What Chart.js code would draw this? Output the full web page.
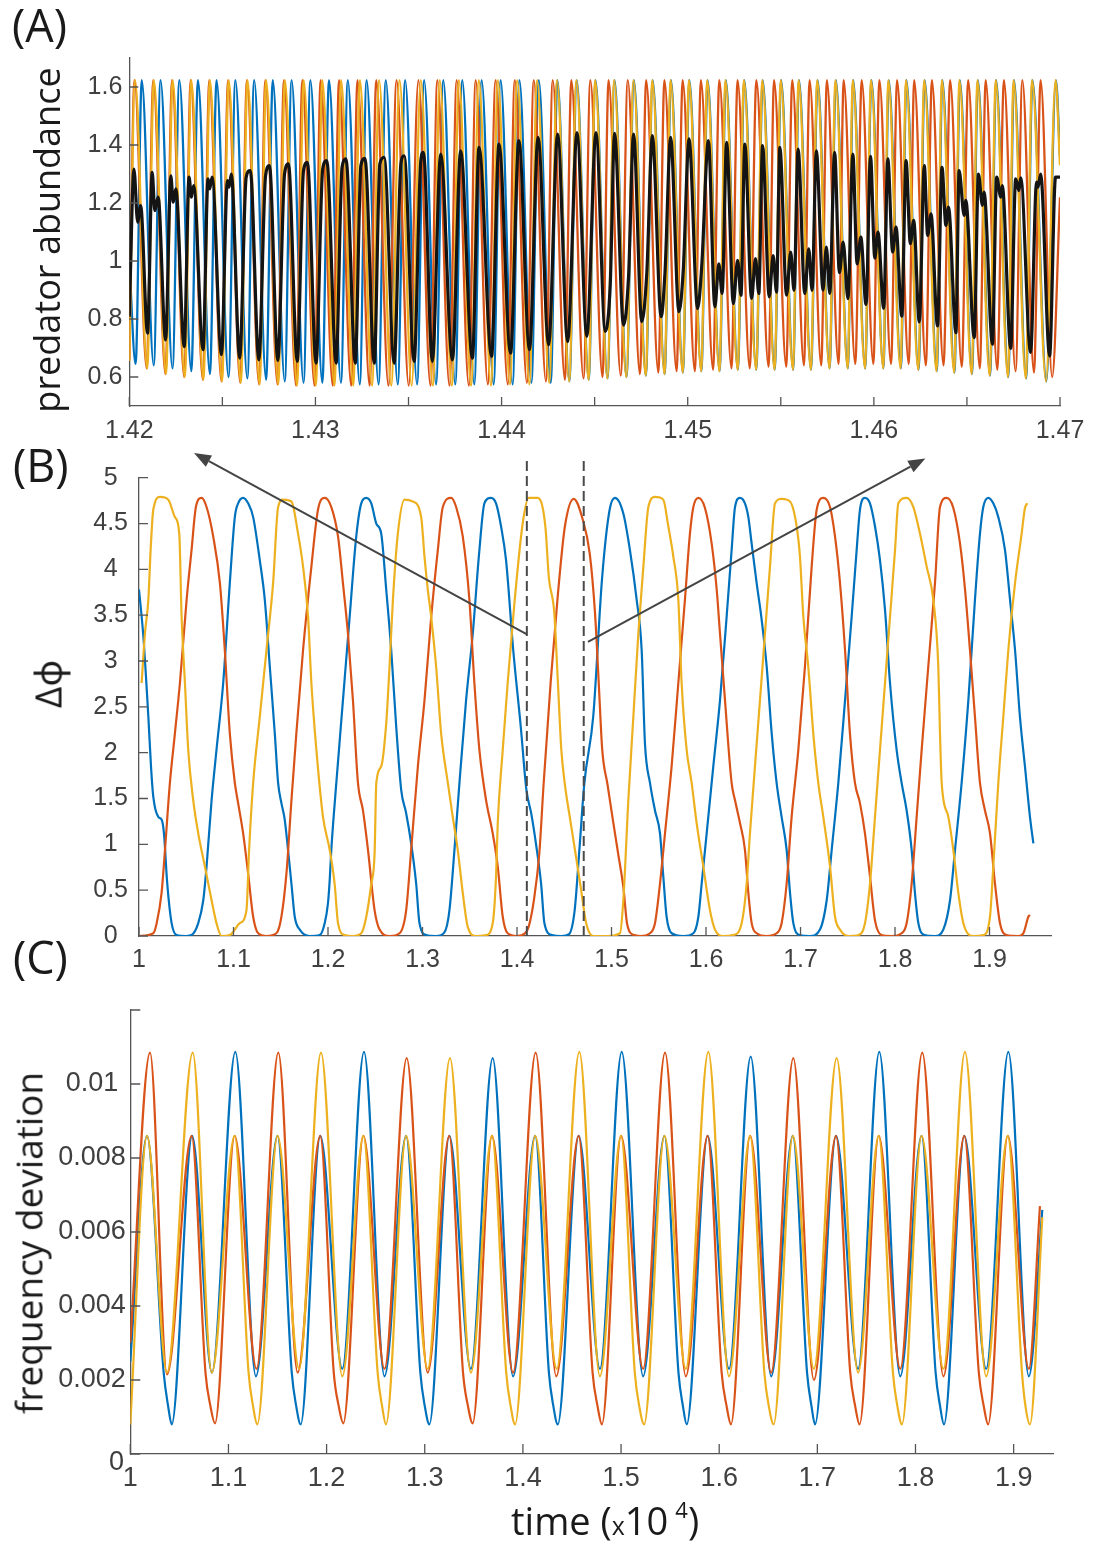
<!DOCTYPE html>
<html><head><meta charset="utf-8">
<script src="https://cdn.jsdelivr.net/npm/chart.js@4.4.1/dist/chart.umd.min.js"></script>
<style>
html,body{margin:0;padding:0;background:#fff;}
#wrap{position:relative;width:1097px;height:1548px;overflow:hidden;background:#fff;}
#wrap canvas{position:absolute;left:0;top:0;}
.t{position:absolute;font-family:"Open Sans","Noto Sans",sans-serif;color:#1a1a1a;white-space:nowrap;line-height:1;}
.r{transform:translate(-50%,-50%) rotate(-90deg);}
</style></head><body>
<div id="wrap">
<canvas id="cA" width="1097" height="1548"></canvas>
<canvas id="cB" width="1097" height="1548"></canvas>
<canvas id="cC" width="1097" height="1548"></canvas>
<div class="t" style="left:12px;top:2px;font-size:45px;">(A)</div>
<div class="t" style="left:13px;top:442px;font-size:45px;">(B)</div>
<div class="t" style="left:13px;top:934px;font-size:45px;">(C)</div>
<div class="t r" style="left:47px;top:240px;font-size:36px;">predator abundance</div>
<div class="t r" style="left:47px;top:684px;font-size:37px;">Δϕ</div>
<div class="t r" style="left:28px;top:1243px;font-size:37px;">frequency deviation</div>
<div class="t" style="left:511px;top:1501px;font-size:38px;">time (<span style="font-size:25px">x</span>10<span style="font-size:22px;position:relative;top:-17px;margin-left:7px">4</span>)</div>
<div class="t" style="left:109px;top:1448px;font-size:27px;font-family:'Liberation Sans',Arial,sans-serif;color:#3d3d3d">0</div>
</div>
<script>
// ================= DATA =================
// ---- Panel A: predator abundance (x in 10^4 time units) ----
const aPeakY = 1.624;
const orangeAStart = [[1.42, 0.655]];
const orangeAPeakX = [1.42031,1.42132,1.42233,1.42333,1.42433,1.42534,1.42635,1.42735,1.42836,1.42937,
 1.43037,1.43138,1.43239,1.43342,1.43452,1.43566,1.43668,1.43771,1.43878,1.43980,
 1.44084,1.44191,1.44298,1.44402,1.44503,1.44605,1.44709,1.44810,1.44908,1.45007,
 1.45105,1.45203,1.45302,1.45401,1.45500,1.45596,1.45696,1.45794,1.45887,1.45985,
 1.46078,1.46173,1.46271,1.46366,1.46460,1.46557,1.46655,1.46751,1.46850,1.46976];
const orangeATroughX = [1.42096,1.42197,1.42298,1.42398,1.42498,1.42599,1.42700,1.42800,1.42901,1.43002,
 1.43102,1.43203,1.43304,1.43407,1.43517,1.43631,1.43733,1.43836,1.43943,1.44045,
 1.44149,1.44256,1.44363,1.44467,1.44568,1.44670,1.44774,1.44875,1.44973,1.45072,
 1.45170,1.45268,1.45367,1.45466,1.45565,1.45661,1.45761,1.45859,1.45952,1.46050,
 1.46143,1.46238,1.46336,1.46431,1.46525,1.46622,1.46720,1.46816,1.46925];
const orangeATroughY = [0.63,0.61,0.60,0.59,0.585,0.58,0.575,0.575,0.57,0.57,
 0.57,0.57,0.57,0.57,0.57,0.57,0.57,0.57,0.57,0.575,
 0.575,0.58,0.585,0.59,0.595,0.60,0.605,0.61,0.615,0.62,
 0.62,0.625,0.625,0.625,0.625,0.625,0.63,0.63,0.63,0.63,
 0.63,0.625,0.62,0.615,0.61,0.605,0.60,0.595,0.585];
const orangeAEnd = [1.47, 1.33];

const blueAStart = [[1.42, 1.0],[1.42034, 0.645]];
const blueAPeakX = [1.42067,1.42168,1.42269,1.42369,1.42469,1.42570,1.42671,1.42771,1.42872,1.42973,
 1.43073,1.43174,1.43275,1.43378,1.43482,1.43584,1.43687,1.43789,1.43893,1.43995,
 1.44096,1.44200,1.44300,1.44404,1.44505,1.44607,1.44711,1.44812,1.44910,1.45009,
 1.45107,1.45205,1.45304,1.45403,1.45502,1.45598,1.45698,1.45796,1.45889,1.45987,
 1.46080,1.46175,1.46273,1.46368,1.46462,1.46559,1.46657,1.46753,1.46852,1.46978];
const blueATroughX = [1.42131,1.42232,1.42333,1.42433,1.42533,1.42634,1.42735,1.42835,1.42936,1.43037,
 1.43137,1.43238,1.43339,1.43442,1.43546,1.43648,1.43751,1.43853,1.43957,1.44059,
 1.44160,1.44264,1.44364,1.44468,1.44569,1.44671,1.44775,1.44876,1.44974,1.45073,
 1.45171,1.45269,1.45368,1.45467,1.45566,1.45662,1.45762,1.45860,1.45953,1.46051,
 1.46145,1.46240,1.46338,1.46433,1.46527,1.46624,1.46722,1.46818,1.46927];
const blueATroughY = [0.64,0.63,0.62,0.61,0.60,0.595,0.59,0.585,0.58,0.58,
 0.58,0.575,0.575,0.575,0.575,0.575,0.575,0.575,0.575,0.575,
 0.58,0.58,0.585,0.59,0.595,0.60,0.605,0.61,0.615,0.62,
 0.62,0.625,0.625,0.625,0.625,0.625,0.63,0.63,0.63,0.63,
 0.63,0.625,0.62,0.615,0.61,0.605,0.60,0.595,0.585];
const blueAEnd = [1.47, 1.36];

const redAStart = [[1.42, 0.66]];
const redAPeakX = [1.42028,1.42129,1.42230,1.42330,1.42430,1.42531,1.42632,1.42731,1.42831,1.42930,
 1.43028,1.43127,1.43226,1.43327,1.43436,1.43553,1.43655,1.43759,1.43861,1.43968,
 1.44071,1.44173,1.44275,1.44375,1.44477,1.44575,1.44678,1.44777,1.44875,1.44973,
 1.45071,1.45170,1.45268,1.45369,1.45464,1.45562,1.45655,1.45748,1.45838,1.45935,
 1.46030,1.46125,1.46217,1.46312,1.46410,1.46507,1.46601,1.46699,1.46798,1.46896];
const redATroughX = [1.42093,1.42194,1.42295,1.42395,1.42495,1.42596,1.42697,1.42796,1.42896,1.42995,
 1.43093,1.43192,1.43291,1.43392,1.43501,1.43618,1.43720,1.43824,1.43926,1.44033,
 1.44136,1.44238,1.44340,1.44440,1.44542,1.44640,1.44743,1.44842,1.44940,1.45038,
 1.45136,1.45235,1.45333,1.45434,1.45529,1.45624,1.45717,1.45810,1.45900,1.45997,
 1.46092,1.46187,1.46279,1.46374,1.46472,1.46569,1.46663,1.46761,1.46860,1.46958];
const redATroughY = [0.63,0.61,0.60,0.59,0.585,0.58,0.575,0.575,0.57,0.57,
 0.57,0.57,0.57,0.57,0.57,0.57,0.57,0.57,0.575,0.575,
 0.58,0.585,0.59,0.595,0.60,0.605,0.61,0.615,0.62,0.62,
 0.625,0.63,0.63,0.635,0.635,0.64,0.64,0.645,0.645,0.645,
 0.645,0.645,0.64,0.64,0.635,0.63,0.625,0.62,0.615,0.60];
const redAEnd = [1.47, 1.22];

const blackA = [
 [1.42000,0.808],[1.42025,1.317],[1.42045,1.134],[1.42061,1.191],[1.42098,0.751],
 [1.42123,1.306],[1.42137,1.174],[1.42155,1.220],[1.42195,0.728],
 [1.42223,1.294],[1.42236,1.203],[1.42250,1.249],[1.42295,0.705],
 [1.42321,1.289],[1.42334,1.220],[1.42346,1.260],[1.42396,0.694],
 [1.42423,1.283],[1.42432,1.249],[1.42445,1.289],[1.42495,0.677],
 [1.42527,1.277],[1.42536,1.255],[1.42548,1.300],[1.42593,0.665],
 [1.42628,1.289],[1.42650,1.312],[1.42696,0.659],
 [1.42732,1.294],[1.42753,1.329],[1.42798,0.657],
 [1.42834,1.300],[1.42855,1.335],[1.42902,0.654],
 [1.42936,1.312],[1.42957,1.340],[1.43003,0.648],
 [1.43039,1.317],[1.43061,1.346],[1.43111,0.648],
 [1.43143,1.323],[1.43164,1.352],[1.43214,0.648],
 [1.43244,1.329],[1.43266,1.354],[1.43316,0.648],
 [1.43346,1.335],[1.43369,1.357],[1.43423,0.648],
 [1.43459,1.335],[1.43477,1.363],[1.43530,0.654],
 [1.43566,1.346],[1.43580,1.375],[1.43628,0.654],
 [1.43673,1.369],[1.43736,0.659],
 [1.43780,1.380],[1.43843,0.665],
 [1.43879,1.392],[1.43946,0.671],
 [1.43986,1.403],[1.44048,0.682],
 [1.44093,1.415],[1.44150,0.694],
 [1.44196,1.426],[1.44253,0.711],
 [1.44301,1.438],[1.44355,0.722],
 [1.44405,1.443],[1.44458,0.740],
 [1.44507,1.443],[1.44557,0.757],[1.44584,0.923],
 [1.44607,1.440],[1.44655,0.779],[1.44682,0.945],
 [1.44709,1.438],[1.44753,0.791],[1.44780,0.957],
 [1.44810,1.432],[1.44857,0.808],[1.44878,0.962],
 [1.44908,1.426],[1.44953,0.825],[1.44976,0.968],
 [1.45007,1.421],[1.45053,0.836],[1.45075,0.979],
 [1.45111,1.415],[1.45146,0.842],[1.45167,0.990],[1.45185,0.888],
 [1.45209,1.409],[1.45245,0.853],[1.45268,1.002],[1.45286,0.882],
 [1.45307,1.403],[1.45343,0.871],[1.45364,1.008],[1.45382,0.888],
 [1.45402,1.398],[1.45438,0.876],[1.45459,1.019],[1.45477,0.893],
 [1.45495,1.392],[1.45531,0.882],[1.45553,1.031],[1.45571,0.899],
 [1.45593,1.386],[1.45629,0.888],[1.45650,1.042],[1.45668,0.899],
 [1.45691,1.380],[1.45727,0.900],[1.45745,1.048],[1.45763,0.888],
 [1.45789,1.375],[1.45815,0.960],[1.45835,1.065],[1.45861,0.870],
 [1.45887,1.369],[1.45910,0.990],[1.45930,1.082],[1.45958,0.850],
 [1.45982,1.361],[1.46005,1.010],[1.46022,1.100],[1.46053,0.837],
 [1.46075,1.352],[1.46101,1.031],[1.46119,1.117],[1.46150,0.810],
 [1.46173,1.346],[1.46196,1.060],[1.46214,1.140],[1.46244,0.790],
 [1.46271,1.329],[1.46289,1.088],[1.46307,1.163],[1.46342,0.776],
 [1.46366,1.323],[1.46387,1.123],[1.46401,1.186],[1.46441,0.753],
 [1.46458,1.312],[1.46485,1.157],[1.46494,1.209],[1.46539,0.736],
 [1.46562,1.300],[1.46583,1.192],[1.46592,1.238],[1.46637,0.713],
 [1.46660,1.289],[1.46682,1.220],[1.46690,1.260],[1.46735,0.699],
 [1.46762,1.283],[1.46779,1.243],[1.46789,1.287],[1.46842,0.685],
 [1.46874,1.272],[1.46882,1.255],[1.46896,1.300],[1.46944,0.673],
 [1.46976,1.289],[1.47000,1.289]];

const aXTicks = [1.42,1.425,1.43,1.435,1.44,1.445,1.45,1.455,1.46,1.465,1.47];
const aXLabeled = [1.42,1.43,1.44,1.45,1.46,1.47];
const aYTicks = [0.6,0.8,1.0,1.2,1.4,1.6];

// ---- Panel B: phase differences ----
const blueB = [[1.0,3.78],[1.0046,3.27],[1.0099,2.39],[1.0127,1.85],[1.0151,1.52],[1.0204,1.30],[1.0239,1.27],[1.0264,1.12],[1.0299,0.57],[1.0345,0.14],[1.0398,0.01],[1.0504,0],[1.0556,0.01],[1.0627,0.14],[1.068,0.39],[1.0715,0.76],[1.0768,1.48],[1.082,2.03],[1.0891,2.76],[1.0961,3.85],[1.1014,4.57],[1.1049,4.72],[1.1102,4.78],[1.1155,4.72],[1.1208,4.57],[1.1278,4.10],[1.1331,3.67],[1.1384,2.94],[1.1437,2.21],[1.1472,1.67],[1.1507,1.45],[1.1542,1.27],[1.1577,0.94],[1.1613,0.57],[1.1648,0.21],[1.1701,0.07],[1.1806,0],[1.1912,0.01],[1.1965,0.14],[1.2,0.36],[1.2018,0.61],[1.2035,0.94],[1.2088,1.67],[1.2158,2.57],[1.2229,3.48],[1.2299,4.36],[1.2352,4.72],[1.2405,4.78],[1.2458,4.72],[1.2511,4.50],[1.2563,4.39],[1.2616,3.78],[1.2669,3.12],[1.2722,2.28],[1.2775,1.59],[1.2827,1.34],[1.288,1.01],[1.2933,0.57],[1.2968,0.14],[1.3039,0.01],[1.3144,0],[1.3232,0.04],[1.3285,0.28],[1.3338,0.94],[1.3391,1.67],[1.3461,2.57],[1.3532,3.30],[1.3602,4.21],[1.3655,4.72],[1.3725,4.78],[1.3778,4.72],[1.3831,4.47],[1.3884,4.10],[1.396,3.12],[1.404,2.28],[1.410,1.59],[1.415,1.34],[1.420,1.01],[1.4255,0.57],[1.429,0.14],[1.437,0.01],[1.447,0],[1.455,0.02],[1.461,0.28],[1.466,0.94],[1.4713,1.67],[1.4807,2.40],[1.490,3.90],[1.498,4.65],[1.5037,4.78],[1.5125,4.61],[1.5195,4.21],[1.5266,3.67],[1.5319,3.12],[1.5354,2.10],[1.5407,1.67],[1.546,1.37],[1.5513,1.12],[1.5548,0.65],[1.5583,0.21],[1.5636,0.03],[1.576,0],[1.5866,0.03],[1.5919,0.21],[1.5954,0.57],[1.6007,1.12],[1.6077,1.85],[1.6148,2.57],[1.6218,3.48],[1.6271,4.21],[1.6307,4.68],[1.636,4.78],[1.6412,4.72],[1.6448,4.57],[1.6483,4.28],[1.6536,3.85],[1.6589,3.45],[1.6642,2.94],[1.6695,2.21],[1.6747,1.67],[1.68,1.30],[1.6853,0.94],[1.6889,0.47],[1.6924,0.14],[1.6994,0.01],[1.71,0],[1.7206,0.07],[1.7277,0.39],[1.733,0.94],[1.74,1.67],[1.7471,2.57],[1.7541,3.48],[1.7594,4.21],[1.7629,4.65],[1.7682,4.78],[1.7735,4.72],[1.7788,4.47],[1.7841,4.10],[1.7894,3.56],[1.7947,2.76],[1.8017,2.03],[1.807,1.67],[1.8123,1.37],[1.8176,0.94],[1.8211,0.47],[1.8247,0.14],[1.8317,0.01],[1.8423,0],[1.8511,0.07],[1.8582,0.39],[1.8635,0.94],[1.8705,1.67],[1.8776,2.57],[1.8846,3.67],[1.8899,4.39],[1.8934,4.68],[1.8987,4.78],[1.904,4.72],[1.9093,4.57],[1.9164,4.21],[1.9217,3.67],[1.927,3.12],[1.9322,2.39],[1.9375,1.85],[1.9428,1.30],[1.9464,1.01]];

const redB = [[1.0,0.0],[1.0151,0.03],[1.0187,0.14],[1.0239,0.47],[1.0275,0.94],[1.0327,1.67],[1.038,2.21],[1.0433,2.76],[1.0504,3.67],[1.0556,4.21],[1.0602,4.68],[1.0662,4.78],[1.0715,4.68],[1.0785,4.36],[1.0856,3.85],[1.0908,3.12],[1.0961,2.21],[1.1014,1.67],[1.1049,1.45],[1.1102,1.12],[1.1155,0.68],[1.1208,0.21],[1.1261,0.03],[1.1349,0],[1.1454,0.03],[1.1507,0.21],[1.156,0.68],[1.1613,1.48],[1.1665,2.21],[1.1736,3.12],[1.1824,4.03],[1.1894,4.65],[1.1965,4.78],[1.2035,4.68],[1.2106,4.36],[1.2158,3.85],[1.2211,3.30],[1.2264,2.57],[1.2317,1.67],[1.237,1.37],[1.2423,0.94],[1.2493,0.28],[1.2546,0.07],[1.2651,0],[1.2757,0.03],[1.2827,0.28],[1.288,0.94],[1.2951,1.85],[1.3021,2.57],[1.3092,3.48],[1.3162,4.21],[1.3215,4.68],[1.3303,4.78],[1.3356,4.68],[1.3426,4.36],[1.3496,3.67],[1.3549,2.76],[1.3602,2.03],[1.3673,1.48],[1.3743,1.12],[1.3796,0.76],[1.3849,0.21],[1.3901,0.03],[1.400,0],[1.4085,0.03],[1.4123,0.10],[1.418,0.40],[1.4236,0.90],[1.4281,1.65],[1.4357,2.78],[1.4432,3.72],[1.4507,4.47],[1.460,4.77],[1.4694,4.55],[1.477,4.17],[1.4825,3.53],[1.4864,2.78],[1.4902,2.03],[1.4958,1.65],[1.5014,1.27],[1.507,0.90],[1.5127,0.52],[1.5164,0.14],[1.5238,0.01],[1.5301,0],[1.5407,0.03],[1.546,0.14],[1.5513,0.57],[1.5566,1.12],[1.5636,1.85],[1.5707,2.76],[1.5777,3.67],[1.583,4.39],[1.5866,4.68],[1.5919,4.78],[1.5989,4.67],[1.606,4.28],[1.6113,3.78],[1.6148,3.30],[1.6201,2.57],[1.6271,1.67],[1.6307,1.48],[1.636,1.23],[1.6412,0.94],[1.6448,0.47],[1.6483,0.14],[1.6536,0.03],[1.6642,0],[1.6747,0.03],[1.68,0.14],[1.6853,0.57],[1.6906,1.30],[1.6977,2.03],[1.7047,2.94],[1.7118,4.03],[1.7171,4.65],[1.7241,4.78],[1.7312,4.68],[1.7365,4.36],[1.7418,3.85],[1.7471,3.12],[1.7523,2.21],[1.7576,1.67],[1.7629,1.45],[1.7682,1.12],[1.7735,0.65],[1.7788,0.17],[1.7858,0.01],[1.7964,0],[1.807,0.03],[1.8123,0.14],[1.8176,0.57],[1.8229,1.30],[1.8282,2.03],[1.8352,2.94],[1.8423,3.85],[1.8476,4.68],[1.8547,4.78],[1.8617,4.67],[1.8688,4.28],[1.8741,3.78],[1.8793,3.12],[1.8846,2.39],[1.8899,1.67],[1.8952,1.37],[1.9005,1.12],[1.9058,0.57],[1.9111,0.14],[1.9181,0.01],[1.9305,0],[1.9358,0.03],[1.9411,0.21],[1.9428,0.23]];

const orangeB = [[1.0028,2.76],[1.0063,3.30],[1.0099,3.67],[1.0123,4.21],[1.0151,4.65],[1.0222,4.79],[1.031,4.76],[1.038,4.57],[1.0426,4.39],[1.0451,3.48],[1.0486,2.76],[1.0521,2.03],[1.0574,1.48],[1.0627,1.12],[1.0697,0.76],[1.0768,0.39],[1.082,0.14],[1.0873,0],[1.0961,0.01],[1.1067,0.14],[1.1137,0.28],[1.1165,0.94],[1.1208,1.67],[1.1278,2.39],[1.1349,3.12],[1.1419,3.85],[1.1472,4.68],[1.1525,4.76],[1.1613,4.74],[1.1683,4.39],[1.1736,4.03],[1.1789,3.48],[1.1824,2.76],[1.1877,2.03],[1.1947,1.30],[1.2018,0.94],[1.207,0.57],[1.2106,0.14],[1.2176,0.01],[1.2264,0],[1.2352,0.03],[1.2405,0.21],[1.2458,0.57],[1.2493,0.90],[1.2511,1.67],[1.2563,1.85],[1.2616,2.32],[1.2651,2.94],[1.2687,3.67],[1.2739,4.39],[1.281,4.76],[1.2898,4.74],[1.2986,4.57],[1.3021,4.14],[1.3056,3.78],[1.3092,3.48],[1.3144,2.94],[1.3197,2.21],[1.3268,1.67],[1.332,1.30],[1.3373,0.94],[1.3426,0.47],[1.3479,0.10],[1.3567,0],[1.3673,0.01],[1.3743,0.14],[1.3778,0.65],[1.3796,1.23],[1.3849,2.03],[1.3901,2.76],[1.397,3.60],[1.406,4.50],[1.4123,4.78],[1.422,4.78],[1.430,4.47],[1.4337,3.91],[1.4394,3.53],[1.4432,2.78],[1.4469,2.03],[1.4507,1.65],[1.4563,1.27],[1.4619,0.90],[1.4676,0.52],[1.4732,0.14],[1.4807,0],[1.496,0],[1.509,0.03],[1.5125,0.39],[1.5178,1.48],[1.5231,2.39],[1.5284,3.30],[1.5337,4.03],[1.539,4.68],[1.546,4.79],[1.5548,4.76],[1.5601,4.47],[1.5654,4.14],[1.5707,3.67],[1.5742,2.76],[1.5795,2.03],[1.5848,1.67],[1.5901,1.23],[1.5971,0.76],[1.6042,0.28],[1.6095,0.07],[1.6183,0],[1.6289,0.01],[1.6377,0.14],[1.643,0.57],[1.6465,1.12],[1.6518,1.85],[1.6571,2.57],[1.6624,3.30],[1.6677,4.03],[1.673,4.72],[1.68,4.77],[1.6889,4.74],[1.6959,4.47],[1.6994,4.14],[1.703,3.48],[1.7082,2.94],[1.7135,2.21],[1.7188,1.67],[1.7241,1.30],[1.7312,0.76],[1.7365,0.21],[1.7418,0.07],[1.7506,0],[1.7612,0.01],[1.7682,0.14],[1.7735,0.57],[1.7788,1.30],[1.7841,2.03],[1.7894,2.76],[1.7947,3.48],[1.8,4.21],[1.8035,4.72],[1.8123,4.78],[1.8194,4.68],[1.8264,4.39],[1.8335,4.03],[1.8405,3.67],[1.8458,2.94],[1.8476,2.21],[1.8494,1.67],[1.8564,1.30],[1.8617,0.94],[1.867,0.47],[1.8723,0.14],[1.8829,0],[1.8934,0.01],[1.9005,0.21],[1.904,0.76],[1.9093,1.67],[1.9146,2.39],[1.9199,3.12],[1.927,3.85],[1.934,4.39],[1.9375,4.67],[1.94,4.72]];

const bXTicks = [1,1.1,1.2,1.3,1.4,1.5,1.6,1.7,1.8,1.9];
const bYTicks = [0,0.5,1,1.5,2,2.5,3,3.5,4,4.5,5];
const bDashedX = [1.4104, 1.4706];
const bDashTopY = 5.2;
const bArrows = [[1.4106,3.29,1.0582,5.27],[1.4751,3.21,1.8321,5.21]];

// ---- Panel C: frequency deviation ----
const redC = [[1.000,0.0030],[1.0201,0.01085],[1.0374,0.00215],[1.0625,0.0086],[1.0766,0.0022],[1.0816,0.0013],[1.0863,0.00083],[1.1063,0.0086],[1.1286,0.0023],[1.1508,0.01085],[1.1705,0.0022],[1.1935,0.0086],[1.2073,0.0022],[1.2123,0.0013],[1.2170,0.00083],[1.2375,0.0086],[1.2590,0.0023],[1.2816,0.0107],[1.3030,0.0022],[1.3250,0.0086],[1.3390,0.0022],[1.3440,0.0013],[1.3488,0.00083],[1.3685,0.0086],[1.3900,0.0022],[1.4130,0.01085],[1.4340,0.0021],[1.4568,0.0086],[1.4710,0.0022],[1.4760,0.0013],[1.4805,0.0008],[1.5000,0.0086],[1.5225,0.0023],[1.5448,0.01085],[1.5660,0.0021],[1.5882,0.0086],[1.6025,0.0022],[1.6075,0.0013],[1.6120,0.0008],[1.6315,0.0086],[1.6530,0.0022],[1.6755,0.0107],[1.6965,0.0020],[1.7190,0.0086],[1.7335,0.0022],[1.7385,0.0013],[1.7430,0.0008],[1.7625,0.0086],[1.7845,0.0023],[1.8069,0.01085],[1.8285,0.0021],[1.8497,0.0086],[1.8645,0.0022],[1.8695,0.0013],[1.8740,0.0008],[1.8940,0.0086],[1.9155,0.0023],[1.9268,0.0067]];

const orangeC = [[1.000,0.0008],[1.0170,0.0086],[1.0374,0.0022],[1.0636,0.01085],[1.0830,0.0022],[1.1063,0.0086],[1.1205,0.0022],[1.1250,0.0013],[1.1294,0.0008],[1.1500,0.0086],[1.1720,0.0023],[1.1943,0.01085],[1.2160,0.0021],[1.2375,0.0086],[1.2520,0.0022],[1.2565,0.0013],[1.2605,0.0008],[1.2810,0.0086],[1.3030,0.0023],[1.3257,0.0107],[1.3470,0.0022],[1.3685,0.0086],[1.3830,0.0022],[1.3875,0.0013],[1.3920,0.0008],[1.4125,0.0086],[1.4345,0.0023],[1.4575,0.01087],[1.4785,0.0021],[1.5000,0.0086],[1.5140,0.0022],[1.5185,0.0013],[1.5235,0.0008],[1.5442,0.0086],[1.5660,0.0023],[1.5889,0.01087],[1.6100,0.0021],[1.6315,0.0086],[1.6460,0.0022],[1.6505,0.0013],[1.6555,0.0008],[1.6750,0.0086],[1.6965,0.0023],[1.7197,0.0107],[1.7415,0.0022],[1.7625,0.0086],[1.7770,0.0022],[1.7815,0.0013],[1.7862,0.0008],[1.8062,0.0086],[1.8285,0.0023],[1.8504,0.01087],[1.8720,0.0021],[1.8940,0.0086],[1.9085,0.0022],[1.9120,0.0013],[1.9166,0.0008],[1.9292,0.0064]];

const blueC = [[1.000,0.0025],[1.0170,0.0086],[1.0340,0.0022],[1.0385,0.0013],[1.0422,0.0008],[1.0630,0.0086],[1.0832,0.0022],[1.1070,0.01087],[1.1280,0.0021],[1.1500,0.0086],[1.1645,0.0022],[1.1690,0.0013],[1.1736,0.0008],[1.1935,0.0086],[1.2160,0.0023],[1.2381,0.01087],[1.2590,0.0021],[1.2810,0.0086],[1.2955,0.0022],[1.3000,0.0013],[1.3047,0.0008],[1.3250,0.0086],[1.3470,0.0023],[1.3692,0.0107],[1.3900,0.0021],[1.4125,0.0086],[1.4265,0.0022],[1.4310,0.0013],[1.4355,0.0008],[1.4568,0.0086],[1.4785,0.0023],[1.5007,0.01087],[1.5225,0.0021],[1.5442,0.0086],[1.5585,0.0022],[1.5630,0.0013],[1.5669,0.0008],[1.5882,0.0086],[1.6100,0.0023],[1.6321,0.01074],[1.6530,0.0021],[1.6750,0.0086],[1.6895,0.0022],[1.6940,0.0013],[1.6976,0.0008],[1.7190,0.0086],[1.7415,0.0023],[1.7631,0.01087],[1.7845,0.0021],[1.8062,0.0086],[1.8205,0.0022],[1.8250,0.0013],[1.8290,0.0008],[1.8497,0.0086],[1.8720,0.0023],[1.8946,0.01087],[1.9155,0.0021],[1.9292,0.0066]];

const cXTicks = [1,1.1,1.2,1.3,1.4,1.5,1.6,1.7,1.8,1.9];
const cYTicks = [0,0.002,0.004,0.006,0.008,0.01,0.012];
const cYLabeled = [0.002,0.004,0.006,0.008,0.01];

// ================= RENDERING =================
const COL = {blue:'#0072BD', red:'#D95319', orange:'#EDB120', black:'#141414'};
const AXIS_COLOR = '#555555';
const TICK_COLOR = '#404040';
const TICK_FAMILY = '"Liberation Sans", Arial, Helvetica, sans-serif';

function toPts(arr){ return arr.map(p => ({x:p[0], y:p[1]})); }
function buildOsc(startPts, peakX, peakY, troughX, troughY, endPt){
  const out = toPts(startPts);
  for (let k = 0; k < peakX.length; k++){
    out.push({x:peakX[k], y:peakY});
    if (k < troughX.length) out.push({x:troughX[k], y:troughY[k]});
  }
  out.push({x:endPt[0], y:endPt[1]});
  return out;
}
function near(v, list){ return list.some(u => Math.abs(u - v) < 1e-9); }
function fmt(v){ return String(+v.toFixed(4)); }

const inTicks = {
  id:'inTicks',
  afterDraw(chart, args, opts){
    const ctx = chart.ctx, ca = chart.chartArea;
    const xs = chart.scales.x, ys = chart.scales.y;
    ctx.save();
    ctx.strokeStyle = opts.color; ctx.lineWidth = opts.width;
    ctx.beginPath();
    xs.ticks.forEach(t => { const px = xs.getPixelForValue(t.value); ctx.moveTo(px, ca.bottom); ctx.lineTo(px, ca.bottom - opts.len); });
    ys.ticks.forEach(t => { const py = ys.getPixelForValue(t.value); ctx.moveTo(ca.left, py); ctx.lineTo(ca.left + opts.len, py); });
    ctx.stroke();
    ctx.restore();
  }
};

function lineDS(data, color, width){
  return {data, borderColor:color, backgroundColor:color, borderWidth:width, pointRadius:0,
          cubicInterpolationMode:'monotone', fill:false};
}

function xAxis(min, max, ticksArr, labelFn, size, pad){
  return {type:'linear', position:'bottom', min, max,
    afterBuildTicks: s => { s.ticks = ticksArr.map(v => ({value:v})); },
    afterFit: s => { s.height = 40; },
    ticks:{callback: labelFn, font:{family:TICK_FAMILY, size}, color:TICK_COLOR, padding:pad,
           autoSkip:false, maxRotation:0, minRotation:0},
    grid:{display:false, drawTicks:false},
    border:{display:true, color:AXIS_COLOR, width:1.3}};
}
function yAxis(min, max, ticksArr, labelFn, size, pad, crossAlign){
  return {type:'linear', position:'left', min, max,
    afterBuildTicks: s => { s.ticks = ticksArr.map(v => ({value:v})); },
    afterFit: s => { s.width = 100; },
    ticks:{callback: labelFn, font:{family:TICK_FAMILY, size}, color:TICK_COLOR, padding:pad,
           autoSkip:false, crossAlign},
    grid:{display:false, drawTicks:false},
    border:{display:true, color:AXIS_COLOR, width:1.3}};
}
function baseOpts(padding, scales, tickLen){
  return {responsive:false, animation:false, events:[],
    layout:{padding},
    plugins:{legend:{display:false}, tooltip:{enabled:false}, title:{display:false},
             inTicks:{len:tickLen, color:AXIS_COLOR, width:1.3}},
    scales};
}

// Panel A
new Chart(document.getElementById('cA'), {
  type:'line',
  data:{datasets:[
    lineDS(toPts(blackA), COL.black, 3.2),
    lineDS(buildOsc(orangeAStart, orangeAPeakX, aPeakY, orangeATroughX, orangeATroughY, orangeAEnd), COL.orange, 2.3),
    lineDS(buildOsc(redAStart, redAPeakX, aPeakY, redATroughX, redATroughY, redAEnd), COL.red, 2.3),
    lineDS(buildOsc(blueAStart, blueAPeakX, aPeakY, blueATroughX, blueATroughY, blueAEnd), COL.blue, 2.3)
  ]},
  options: baseOpts({left:29.3, right:37, top:58, bottom:1548-406-40}, {
    x: xAxis(1.42, 1.47, aXTicks, v => near(v, aXLabeled) ? fmt(v) : '', 25, 10),
    y: yAxis(0.5, 1.7, aYTicks, v => fmt(v), 25, 7, 'near')
  }, 9),
  plugins:[inTicks]
});

// Panel B annotations
const annB = {
  id:'annB',
  afterDatasetsDraw(chart){
    const {ctx} = chart; const xs = chart.scales.x, ys = chart.scales.y;
    ctx.save();
    ctx.strokeStyle = '#4a4a4a'; ctx.lineWidth = 2; ctx.setLineDash([10,5]);
    bDashedX.forEach(v => {
      const px = xs.getPixelForValue(v);
      ctx.beginPath(); ctx.moveTo(px, ys.getPixelForValue(0)); ctx.lineTo(px, ys.getPixelForValue(bDashTopY)); ctx.stroke();
    });
    ctx.setLineDash([]);
    ctx.strokeStyle = '#444444'; ctx.fillStyle = '#444444'; ctx.lineWidth = 2;
    bArrows.forEach(a => {
      const x0 = xs.getPixelForValue(a[0]), y0 = ys.getPixelForValue(a[1]);
      const x1 = xs.getPixelForValue(a[2]), y1 = ys.getPixelForValue(a[3]);
      const ang = Math.atan2(y1 - y0, x1 - x0), L = 17, W = 6.5;
      const bx = x1 - L*Math.cos(ang), by = y1 - L*Math.sin(ang);
      ctx.beginPath(); ctx.moveTo(x0, y0); ctx.lineTo(bx, by); ctx.stroke();
      ctx.beginPath(); ctx.moveTo(x1, y1);
      ctx.lineTo(bx + W*Math.sin(ang), by - W*Math.cos(ang));
      ctx.lineTo(bx - W*Math.sin(ang), by + W*Math.cos(ang));
      ctx.closePath(); ctx.fill();
    });
    ctx.restore();
  }
};

new Chart(document.getElementById('cB'), {
  type:'line',
  data:{datasets:[
    lineDS(toPts(orangeB), COL.orange, 2.2),
    lineDS(toPts(redB), COL.red, 2.2),
    lineDS(toPts(blueB), COL.blue, 2.2)
  ]},
  options: baseOpts({left:39, right:1097-1051.7, top:477.7, bottom:1548-936-40}, {
    x: xAxis(1, 1.9658, bXTicks, v => fmt(v), 25, 9),
    y: yAxis(0, 5, bYTicks, v => fmt(v), 25, 11, 'center')
  }, 9),
  plugins:[inTicks, annB]
});

// Panel C
new Chart(document.getElementById('cC'), {
  type:'line',
  data:{datasets:[
    lineDS(toPts(orangeC), COL.orange, 2.2),
    lineDS(toPts(redC), COL.red, 2.2),
    lineDS(toPts(blueC), COL.blue, 2.2)
  ]},
  options: baseOpts({left:30.3, right:1097-1053.3, top:1010, bottom:1548-1454-40}, {
    x: xAxis(1, 1.9404, cXTicks, v => fmt(v), 27, 8),
    y: yAxis(0, 0.012, cYTicks, v => near(v, cYLabeled) ? fmt(v) : '', 27, 4.5, 'center')
  }, 10),
  plugins:[inTicks]
});
</script>
</body></html>
